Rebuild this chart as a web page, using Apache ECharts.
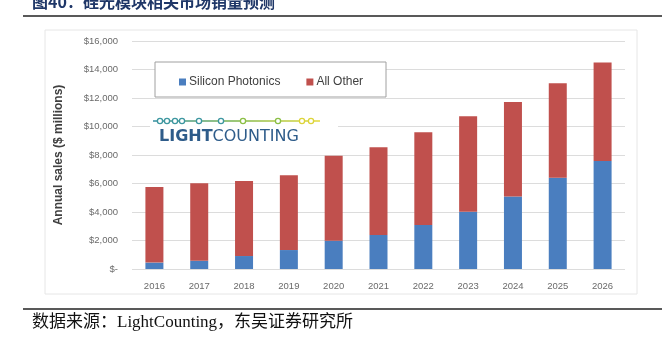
<!DOCTYPE html>
<html>
<head>
<meta charset="utf-8">
<script src="https://cdn.jsdelivr.net/npm/echarts@6/dist/echarts.min.js"></script>
<style>html,body{margin:0;padding:0;background:#fff;}#c{width:669px;height:337px;}</style>
</head>
<body>
<div id="c"></div>
<script>
var years = ['2016','2017','2018','2019','2020','2021','2022','2023','2024','2025','2026'];
var siliconPhotonics = [450, 580, 910, 1330, 1990, 2390, 3090, 4020, 5080, 6410, 7580];
var allOther = [5300, 5430, 5270, 5250, 5960, 6160, 6500, 6700, 6640, 6620, 6920];
var yTicks = [0, 2000, 4000, 6000, 8000, 10000, 12000, 14000, 16000];

var chart = echarts.init(document.getElementById('c'));
var dotsX = [160, 167, 175, 182, 199, 221, 243, 278, 302, 311];
var logoEls = [
  {type:'rect', shape:{x:150,y:111,width:188,height:35}, style:{fill:'#fff'}, z:3},
  {type:'line', shape:{x1:153,y1:121,x2:320,y2:121}, style:{stroke:new echarts.graphic.LinearGradient(0,0,1,0,[{offset:0,color:'#2f8ca3'},{offset:0.5,color:'#7cb54a'},{offset:1,color:'#e8dc3a'}]), lineWidth:1.5}, z:4}
];
dotsX.forEach(function(x){
  var t=(x-153)/167;
  var col = t<0.5 ? '#3d97a0' : (t<0.8 ? '#8bbf45' : '#ddd43a');
  logoEls.push({type:'circle', shape:{cx:x,cy:121,r:2.6}, style:{fill:'#fff', stroke:col, lineWidth:1.3}, z:5});
});
logoEls.push({type:'text', x:159, y:137, style:{text:'{b|LIGHT}{r|COUNTING}', rich:{b:{fontFamily:'DejaVu Sans', fontWeight:'bold', fontSize:16, fill:'#2e5c8a'}, r:{fontFamily:'DejaVu Sans', fontSize:16, fill:'#2e5c8a'}}, verticalAlign:'middle'}, z:5});

chart.setOption({
  animation:false,
  backgroundColor:'#fff',
  grid:{left:132, right:44, top:41, bottom:68},
  legend:{
    left:179, top:76, padding:0, itemWidth:7, itemHeight:7, itemGap:26, icon:'rect',
    textStyle:{fontFamily:'Liberation Sans', fontSize:12, color:'#404040', padding:[0,0,0,-2]},
    data:['Silicon Photonics','All Other'], z:6
  },
  xAxis:{
    type:'category', data:years,
    axisLine:{show:false}, axisTick:{show:false},
    axisLabel:{fontFamily:'Liberation Sans', fontSize:9.5, color:'#6a6a6a', margin:12}
  },
  yAxis:{
    type:'value', min:0, max:16000, interval:2000,
    name:'Annual sales ($ millions)', nameLocation:'middle', nameGap:67,
    nameTextStyle:{fontFamily:'Liberation Sans', fontWeight:'bold', fontSize:12, color:'#404040'},
    axisLine:{show:false}, axisTick:{show:false},
    splitLine:{lineStyle:{color:'#dcdcdc', width:1}},
    axisLabel:{fontFamily:'Liberation Sans', fontSize:9.5, color:'#6a6a6a', margin:14,
      formatter:function(v){ if(v===0) return '$-'; return '$' + v.toLocaleString('en-US'); }}
  },
  series:[
    {name:'Silicon Photonics', type:'bar', stack:'s', data:siliconPhotonics, barWidth:18, itemStyle:{color:'#4a7ebf'}},
    {name:'All Other', type:'bar', stack:'s', data:allOther, barWidth:18, itemStyle:{color:'#c0504d'}}
  ],
  graphic:[
    {type:'text', x:32, y:10, style:{text:'图40：硅光模块相关市场销量预测', fontFamily:'Noto Sans CJK SC', fontWeight:'bold', fontSize:16, fill:'#1f3768', verticalAlign:'bottom'}},
    {type:'line', shape:{x1:23,y1:16,x2:662,y2:16}, style:{stroke:'#222', lineWidth:1.5}},
    {type:'rect', shape:{x:45,y:30,width:592,height:264}, style:{fill:'none', stroke:'#e6e6e6', lineWidth:1}, z:-1},
    {type:'rect', shape:{x:155,y:62,width:231,height:35}, style:{fill:'#fff', stroke:'#a0a0a0', lineWidth:1}, z:3},
    {type:'group', children:logoEls},
    {type:'line', shape:{x1:23,y1:309,x2:662,y2:309}, style:{stroke:'#222', lineWidth:1.5}},
    {type:'text', x:32, y:323, style:{text:'数据来源：LightCounting，东吴证券研究所', fontFamily:'Liberation Serif, Noto Sans CJK SC', fontSize:17, fill:'#111', verticalAlign:'middle'}}
  ]
});
</script>
</body>
</html>
